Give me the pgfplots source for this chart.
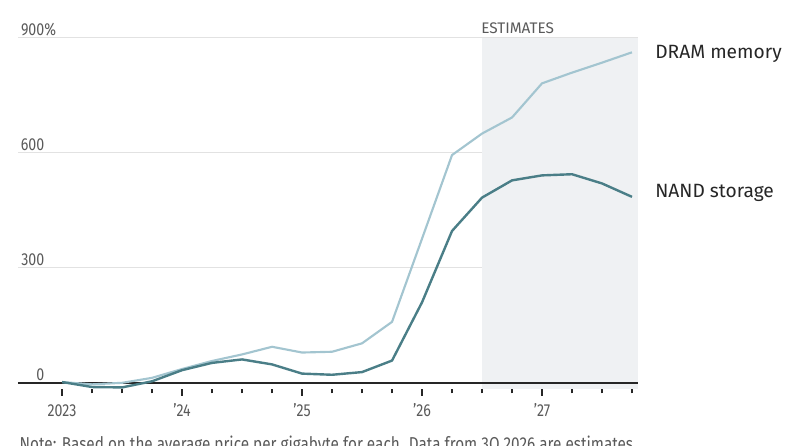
\documentclass[border=0pt]{standalone}
\usepackage{pgfplots}
\pgfplotsset{compat=1.18}
\usepackage{fontspec}
\setmainfont{Fira Sans}
\newfontfamily\condfont{Fira Sans}[FakeStretch=0.82]

\definecolor{dramc}{HTML}{A3C5D0}
\definecolor{nandc}{HTML}{4A7E87}
\definecolor{shadec}{HTML}{EFF1F3}
\definecolor{gridc}{HTML}{E2E2E2}
\definecolor{labc}{HTML}{5A5A5A}
\definecolor{txtc}{HTML}{262626}

% Quarterly price change since 1Q 2023, percent (index 0 = 1Q 2023)
\pgfplotstableread{
q    dram
0    2
1    -4
2    0
3    13
4    36
5    57
6    74
7    94
8    79
9    81
10   103
11   159
12   376
13   594
14   650
15   692
16   781
17   809
18   835
19   862
}\dramdata
\pgfplotstableread{
q    nand
0    2
1    -11
2    -12
3    4
4    33
5    52
6    61
7    48
8    24
9    21
10   28
11   58
12   210
13   396
14   483
15   528
16   541
17   544
18   520
19   485
}\nanddata

\begin{document}
\begin{tikzpicture}
\useasboundingbox (-13.5pt,-41.775pt) rectangle (586.5pt,292pt);
\clip (-13.5pt,-41.775pt) rectangle (586.5pt,292pt);
\begin{axis}[
  at={(0,0)}, anchor=south west,
  scale only axis,
  width=465pt, height=263.7pt,
  xmin=-1.47, xmax=19.2,
  ymin=-17, ymax=900,
  axis line style={draw=none},
  xtick={0,4,8,12,16},
  xticklabels={2023,’24,’25,’26,’27},
  minor xtick={1,2,3,5,6,7,9,10,11,13,14,15,17,18,19},
  xtick pos=bottom,
  tick align=outside,
  major tick length=4.8pt,
  minor tick length=3pt,
  x tick style={draw=txtc, line width=0.9pt},
  xticklabel style={font=\condfont\fontsize{13}{15}\selectfont, text=labc, anchor=base, yshift=-15.4pt},
  ytick={0,300,600,900},
  yticklabels={0,300,600,900\rlap{\%}},
  ytick style={draw=none},
  yticklabel style={font=\condfont\fontsize{13}{15}\selectfont, text=labc, anchor=base east, inner sep=0pt, xshift=24.75pt, yshift=1.6pt},
  ymajorgrids,
  grid style={draw=gridc, line width=0.8pt},
  clip=false,
]
% forecast period shading
\fill[shadec] (axis cs:14,-17) rectangle (axis cs:19.2,900);
% zero baseline
\draw[txtc, line width=1.4pt] (axis cs:-1.47,0) -- (axis cs:19.2,0);
\addplot[dramc, line width=1.6pt, line join=round] table[x=q, y=dram] {\dramdata};
\addplot[nandc, line width=1.8pt, line join=round] table[x=q, y=nand] {\nanddata};
\end{axis}
% annotations
\node[anchor=base west, inner sep=0pt, text=labc, font=\fontsize{11.5}{13}\selectfont] at (347.25pt,266.5pt) {ESTIMATES};
\node[anchor=west, inner sep=0pt, text=txtc, font=\fontsize{14.4}{16}\selectfont] at (477.75pt,251.5pt) {DRAM memory};
\node[anchor=west, inner sep=0pt, text=txtc, font=\fontsize{14.4}{16}\selectfont] at (477.75pt,147.2pt) {NAND storage};
\node[anchor=base west, inner sep=0pt, text=labc, font=\condfont\fontsize{14}{16}\selectfont] at (1.1pt,-45.5pt) {Note: Based on the average price per gigabyte for each. Data from 3Q 2026 are estimates};
\end{tikzpicture}
\end{document}
